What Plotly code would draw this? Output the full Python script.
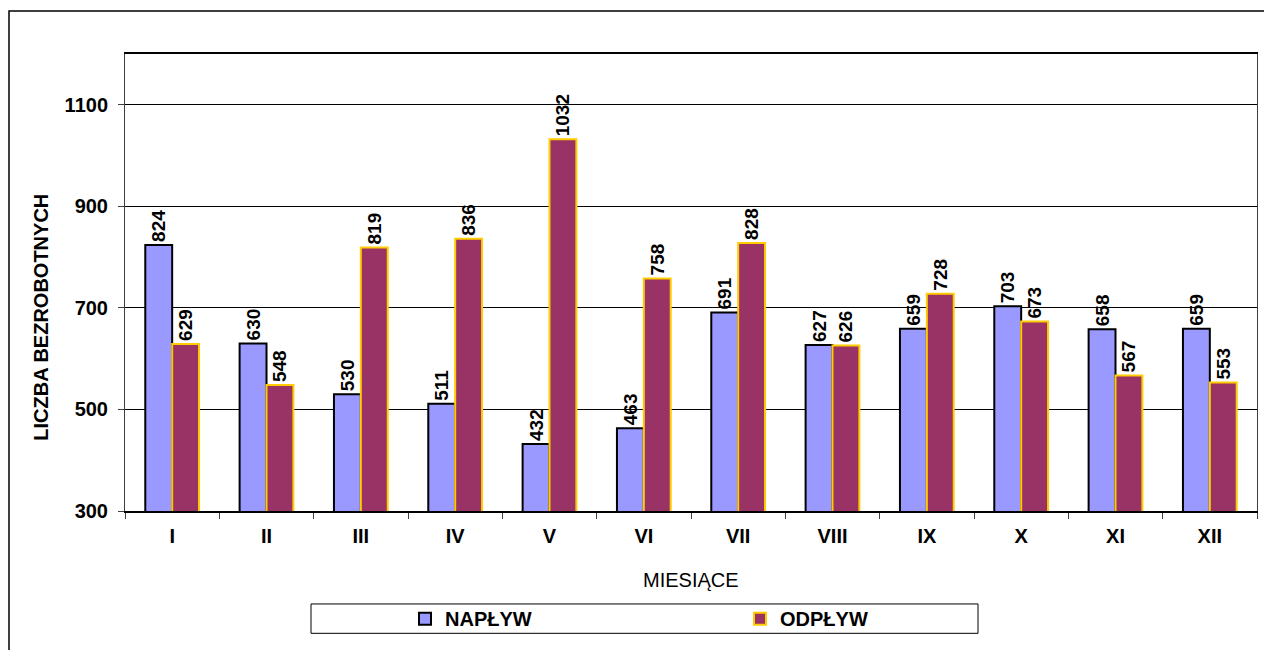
import plotly.graph_objects as go

months = ['I', 'II', 'III', 'IV', 'V', 'VI', 'VII', 'VIII', 'IX', 'X', 'XI', 'XII']
naplyw = [824, 630, 530, 511, 432, 463, 691, 627, 659, 703, 658, 659]
odplyw = [629, 548, 819, 836, 1032, 758, 828, 626, 728, 673, 567, 553]
yticks = [300, 500, 700, 900, 1100]

FONT = 'Liberation Sans, Arial'
lab_font = dict(family=FONT, size=19, color='black')

# page body has an 8px margin, so the figure is laid out in its own pixel frame
W, H = 1264, 642
L, R, T, B = 117, 15, 46, 129
pw, ph = W - L - R, H - T - B


def px(x):  # figure pixel -> paper x
    return (x - L) / pw


def py(y):  # figure pixel -> paper y
    return (H - B - y) / ph


fig = go.Figure()
fig.add_trace(go.Bar(x=months, y=naplyw, name='<b>NAPŁYW</b>',
                     marker=dict(color='#9999FF', line=dict(color='black', width=2)),
                     text=[f'<b>{v}</b>' for v in naplyw], textposition='outside',
                     textangle=-90, textfont=lab_font, constraintext='none', cliponaxis=False))
fig.add_trace(go.Bar(x=months, y=odplyw, name='<b>ODPŁYW</b>',
                     marker=dict(color='#993366', line=dict(color='#FFCC00', width=2)),
                     text=[f'<b>{v}</b>' for v in odplyw], textposition='outside',
                     textangle=-90, textfont=lab_font, constraintext='none', cliponaxis=False))

fig.update_layout(
    width=W, height=H,
    margin=dict(l=L, r=R, t=T, b=B),
    plot_bgcolor='white', paper_bgcolor='white',
    barmode='group', bargap=0.43, bargroupgap=0,
    font=dict(family=FONT, size=19, color='black'),
    showlegend=True,
    legend=dict(orientation='h', x=px(397), y=py(623), xanchor='left', yanchor='middle',
                entrywidth=290, font=dict(size=20, color='black'),
                bgcolor='rgba(0,0,0,0)'),
)
fig.update_yaxes(range=[300, 1200], tickvals=yticks, ticktext=[f'<b>{v}</b>' for v in yticks],
                 showgrid=True, gridcolor='black', gridwidth=1,
                 showline=True, linecolor='#404040', linewidth=1, mirror=True,
                 ticks='outside', ticklen=6, tickcolor='#404040',
                 tickfont=dict(size=20, color='black'), ticklabelstandoff=6,
                 zeroline=False)
fig.update_xaxes(tickvals=months, ticktext=[f'<b>{m}</b>' for m in months],
                 showline=True, linecolor='black', linewidth=1.5, mirror=True,
                 ticks='outside', ticklen=6, tickcolor='#404040', tickson='boundaries',
                 tickfont=dict(size=20, color='black'), ticklabelstandoff=6)

# axis titles
fig.add_annotation(x=px(33.5), y=py(315), xref='paper', yref='paper', text='<b>LICZBA BEZROBOTNYCH</b>',
                   textangle=-90, showarrow=False, xanchor='center', yanchor='middle',
                   font=dict(size=20, color='black'))
fig.add_annotation(x=0.5, y=py(584), xref='paper', yref='paper', text='MIESIĄCE',
                   showarrow=False, xanchor='center', yanchor='middle',
                   font=dict(size=20, color='black'))

# outer chart frame and legend box
fig.add_shape(type='rect', xref='paper', yref='paper', x0=px(1), x1=px(1260), y0=py(H + 20), y1=py(2),
              line=dict(color='black', width=1.5), fillcolor='rgba(0,0,0,0)', layer='below')
fig.add_shape(type='rect', xref='paper', yref='paper', x0=px(303), x1=px(970), y0=py(638), y1=py(608),
              line=dict(color='black', width=1), fillcolor='rgba(0,0,0,0)', layer='below')

fig.write_html('out.html')
